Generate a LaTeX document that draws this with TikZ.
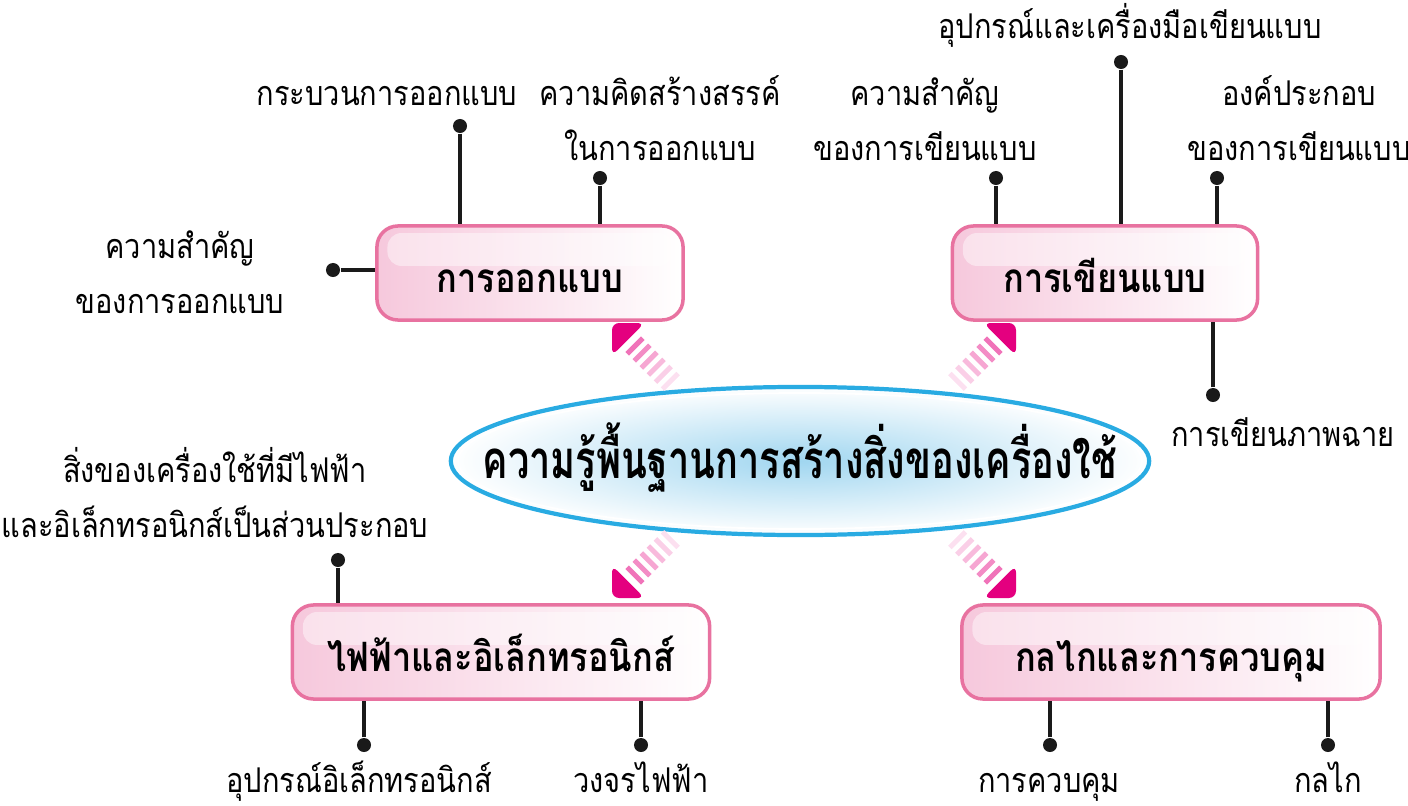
\documentclass[tikz,border=0pt]{standalone}
\usepackage{fontspec}
\usepackage{tikz}
\usetikzlibrary{shapes.geometric}

\newfontfamily\thaifont[Script=Thai,FakeStretch=0.85]{Loma}
\newfontfamily\hubfont[Script=Thai,FakeStretch=0.72]{Loma}

\definecolor{boxpink}{RGB}{232,114,160}
\definecolor{boxfill}{RGB}{246,200,220}
\definecolor{headpink}{RGB}{228,0,127}
\definecolor{hubblue}{RGB}{41,171,226}
\definecolor{hubfill}{RGB}{160,214,240}
\definecolor{stemblack}{RGB}{26,26,26}

\tikzset{
  topic/.style={draw=boxpink, line width=1pt, rounded corners=6pt,
    left color=boxfill, right color=white, minimum height=0.94cm,
    text height=0.38cm, text depth=0pt, inner sep=0pt,
    font=\thaifont\bfseries\fontsize{11.5}{14}\selectfont,
    path picture={\fill[white, opacity=0.45, rounded corners=4pt]
      ([xshift=3pt,yshift=-2pt]path picture bounding box.north west) rectangle
      ([xshift=-3pt,yshift=2pt]path picture bounding box.east);}},
  hub/.style={ellipse, draw=hubblue, line width=1.2pt, inner color=hubfill, outer color=white,
    minimum width=6.98cm, minimum height=1.48cm, inner xsep=-1.2cm, inner ysep=0pt,
    text height=0.34cm, text depth=0pt,
    font=\hubfont\bfseries\fontsize{15}{18}\selectfont},
  leaf/.style={anchor=base, align=center, inner sep=0pt,
    font=\thaifont\fontsize{9.7}{15.4}\selectfont},
  dot/.style={circle, fill=stemblack, inner sep=0pt, minimum size=0.14cm},
  stem/.style={draw=stemblack, line width=0.95pt},
  stripearrow/.pic={
    \fill[headpink, rounded corners=2pt] (0,0) -- (23,23) -- (23,-23) -- cycle;
    \foreach \d/\c in {30/55, 40/45, 50/35, 60/27, 70/19, 80/12}
      \fill[headpink!\c] (\d,-11) rectangle ++(5,22);
  }
}

\begin{document}
\begin{tikzpicture}[x=0.01cm, y=-0.01cm]
\useasboundingbox (0,0) rectangle (1408,806);

% centre
\node[hub] (hub) at (800,461) {ความรู้พื้นฐานการสร้างสิ่งของเครื่องใช้};
\draw[white, line width=0.5pt] (hub.center) ellipse (342 and 68);

% the four topics
\node[topic, minimum width=3.06cm] (design) at (530,273) {การออกแบบ};
\node[topic, minimum width=3.05cm] (drawing) at (1105,273) {การเขียนแบบ};
\node[topic, minimum width=4.17cm] (electric) at (501,652) {ไฟฟ้าและอิเล็กทรอนิกส์};
\node[topic, minimum width=4.18cm] (mechanism) at (1171,652) {กลไกและการควบคุม};

% arrows out of the centre
\pic[rotate=-45] at (612,323) {stripearrow};
\pic[rotate=-135] at (1016,323) {stripearrow};
\pic[rotate=45] at (612,598) {stripearrow};
\pic[rotate=135] at (1016,598) {stripearrow};

% design branches
\node[dot] (d1) at (460,126) {};
\node[dot] (d2) at (600,178) {};
\node[dot] (d3) at (333,270) {};
\draw[stem] (d1) -- (d1 |- design.north);
\draw[stem] (d2) -- (d2 |- design.north);
\draw[stem] (d3) -- (d3 -| design.west);
\node[leaf] (l1) at (387,105) {กระบวนการออกแบบ};
\node[leaf] (l2) at (660,160) {ความคิดสร้างสรรค์\\ในการออกแบบ};
\node[leaf] (l3) at (180,313) {ความสำคัญ\\ของการออกแบบ};

% drawing branches
\node[dot] (w1) at (996,178) {};
\node[dot] (w2) at (1121,62) {};
\node[dot] (w3) at (1217,178) {};
\node[dot] (w4) at (1213,395) {};
\draw[stem] (w1) -- (w1 |- drawing.north);
\draw[stem] (w2) -- (w2 |- drawing.north);
\draw[stem] (w3) -- (w3 |- drawing.north);
\draw[stem] (w4) -- (w4 |- drawing.south);
\node[leaf] (m1) at (925,160) {ความสำคัญ\\ของการเขียนแบบ};
\node[leaf] (m2) at (1130,38) {อุปกรณ์และเครื่องมือเขียนแบบ};
\node[leaf] (m3) at (1299,160) {องค์ประกอบ\\ของการเขียนแบบ};
\node[leaf] (m4) at (1283,446) {การเขียนภาพฉาย};

% electric branches
\node[dot] (e1) at (338,560) {};
\node[dot] (e2) at (364,745) {};
\node[dot] (e3) at (641,745) {};
\draw[stem] (e1) -- (e1 |- electric.north);
\draw[stem] (e2) -- (e2 |- electric.south);
\draw[stem] (e3) -- (e3 |- electric.south);
\node[leaf] (n1) at (215,537) {สิ่งของเครื่องใช้ที่มีไฟฟ้า\\และอิเล็กทรอนิกส์เป็นส่วนประกอบ};
\node[leaf] (n2) at (359,792) {อุปกรณ์อิเล็กทรอนิกส์};
\node[leaf] (n3) at (641,792) {วงจรไฟฟ้า};

% mechanism branches
\node[dot] (k1) at (1050,745) {};
\node[dot] (k2) at (1328,745) {};
\draw[stem] (k1) -- (k1 |- mechanism.south);
\draw[stem] (k2) -- (k2 |- mechanism.south);
\node[leaf] (p1) at (1049,792) {การควบคุม};
\node[leaf] (p2) at (1328,792) {กลไก};

\end{tikzpicture}
\end{document}
